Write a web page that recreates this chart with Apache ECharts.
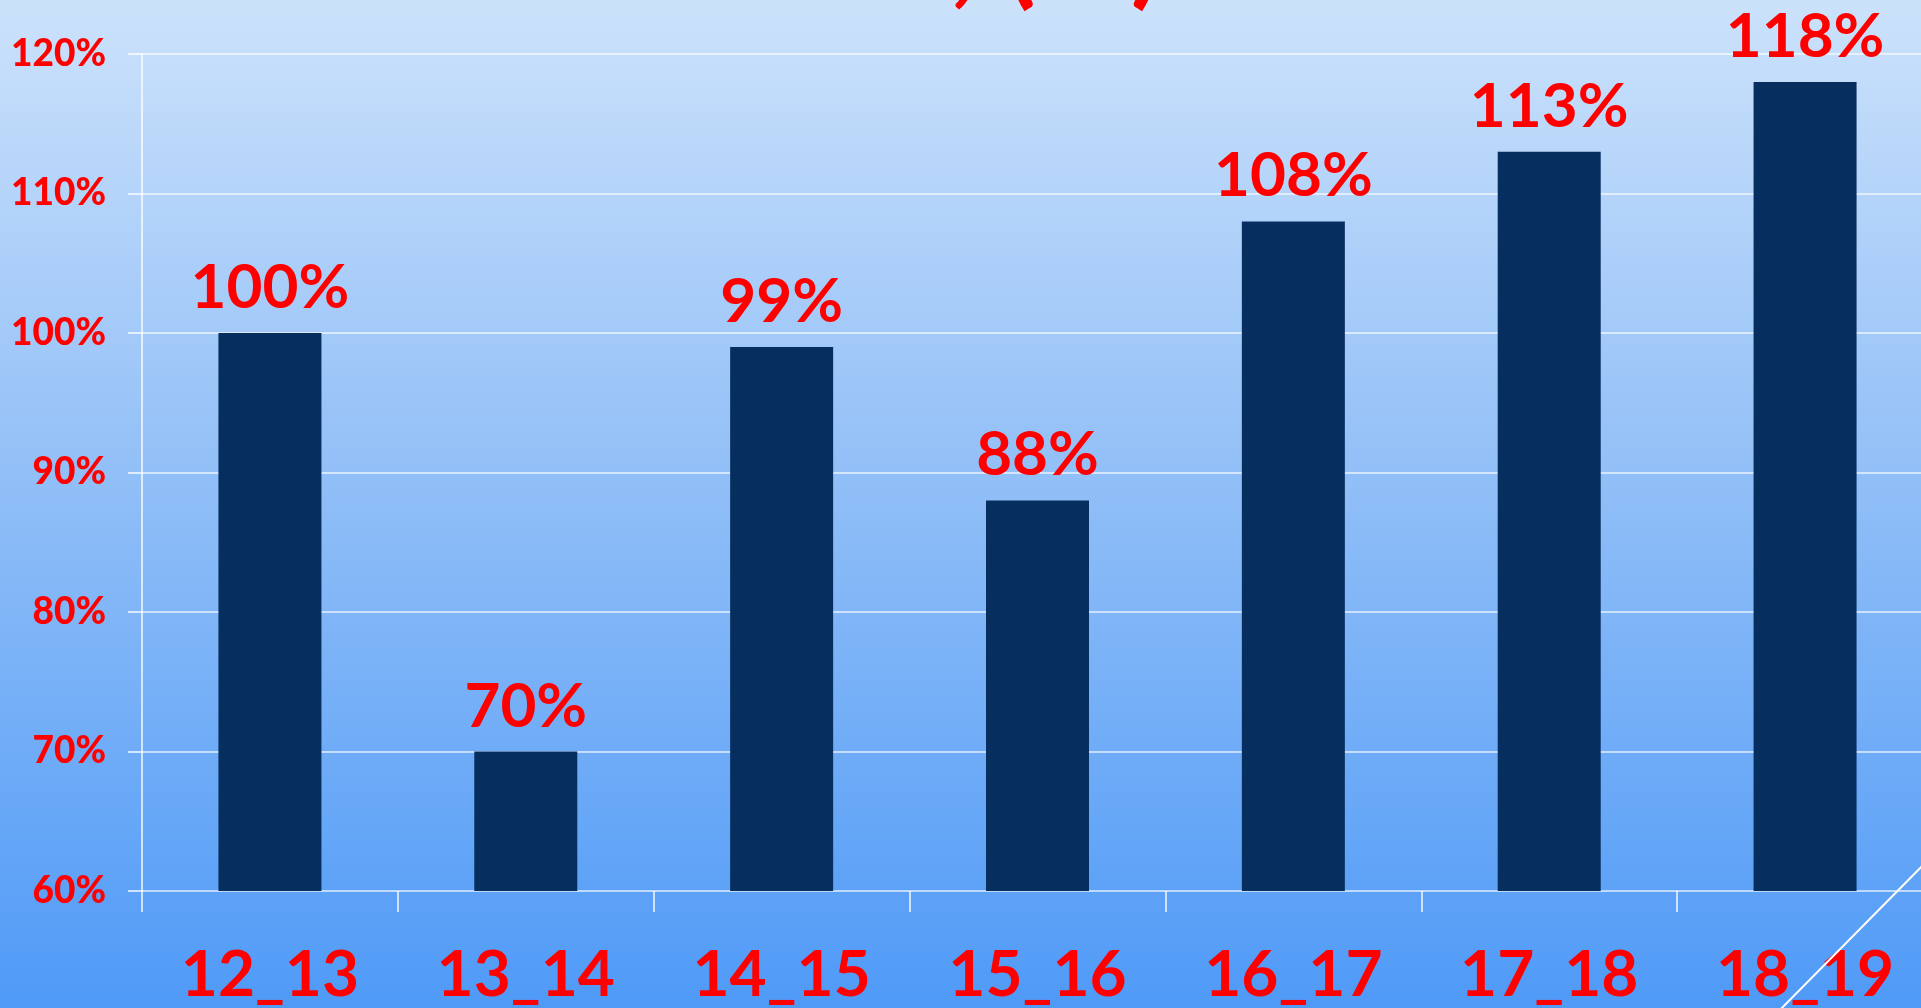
<!DOCTYPE html>
<html>
<head>
<meta charset="utf-8">
<script src="https://cdn.jsdelivr.net/npm/echarts@6/dist/echarts.min.js"></script>
<style>
  html, body { margin: 0; padding: 0; overflow: hidden; }
  /* wider than the window: the plot runs a little past the right edge */
  #chart-container { width: 1940px; height: 1008px; }
</style>
</head>
<body>
<div id="chart-container"></div>
<script>
const seasons = ['12_13', '13_14', '14_15', '15_16', '16_17', '17_18', '18_19'];
const percentValues = [100, 70, 99, 88, 108, 113, 118];
const yTicks = [60, 70, 80, 90, 100, 110, 120];

const RED = '#ff0000';
const FONT = 'Lato';

const myChart = echarts.init(document.getElementById('chart-container'));
const option = {
    animation: false,
    backgroundColor: {
        type: 'linear', x: 0, y: 0, x2: 0, y2: 1,
        colorStops: [
            { offset: 0, color: '#cce2fb' },
            { offset: 0.5, color: '#8ebdf7' },
            { offset: 1, color: '#4f9af7' }
        ]
    },
    graphic: [
        {
            // title, mostly cut off by the top edge
            type: 'text',
            x: 1162, y: 13,
            style: {
                text: 'INDEX, (%)',
                fill: RED,
                font: 'bold 115px ' + FONT,
                textAlign: 'right',
                textVerticalAlign: 'bottom'
            }
        },
        {
            type: 'line',
            z: 10,
            shape: { x1: 1935, y1: 853, x2: 1770, y2: 1020 },
            style: { stroke: '#ffffff', lineWidth: 2 }
        }
    ],
    grid: {
        left: 142,
        top: 54,
        right: 7,
        bottom: 117
    },
    xAxis: {
        type: 'category',
        data: seasons,
        axisLine: { show: false },
        axisTick: { show: true, length: 21, lineStyle: { color: 'rgba(255,255,255,0.7)', width: 2 } },
        axisLabel: {
            color: RED,
            fontFamily: FONT,
            fontWeight: 'bold',
            fontSize: 64,
            margin: 52
        }
    },
    yAxis: {
        type: 'value',
        min: 60,
        max: 120,
        interval: 10,
        axisLine: { show: true, lineStyle: { color: 'rgba(255,255,255,0.7)', width: 2 } },
        axisTick: { show: true, length: 14, lineStyle: { color: 'rgba(255,255,255,0.7)', width: 2 } },
        splitLine: { show: true, lineStyle: { color: 'rgba(255,255,255,0.6)', width: 2 } },
        axisLabel: {
            color: RED,
            fontFamily: FONT,
            fontWeight: 900,
            fontSize: 37,
            margin: 36,
            formatter: function (v) {
                return yTicks.indexOf(v) >= 0 ? v + '%' : '';
            }
        }
    },
    series: [
        {
            type: 'bar',
            data: percentValues,
            barWidth: 103,
            itemStyle: { color: '#062e5e' },
            label: {
                show: true,
                position: 'top',
                distance: 14,
                color: RED,
                fontFamily: FONT,
                fontWeight: 'bold',
                fontSize: 62,
                formatter: function (p) {
                    return p.value + '%';
                }
            }
        }
    ]
};

option && myChart.setOption(option);
</script>
</body>
</html>
